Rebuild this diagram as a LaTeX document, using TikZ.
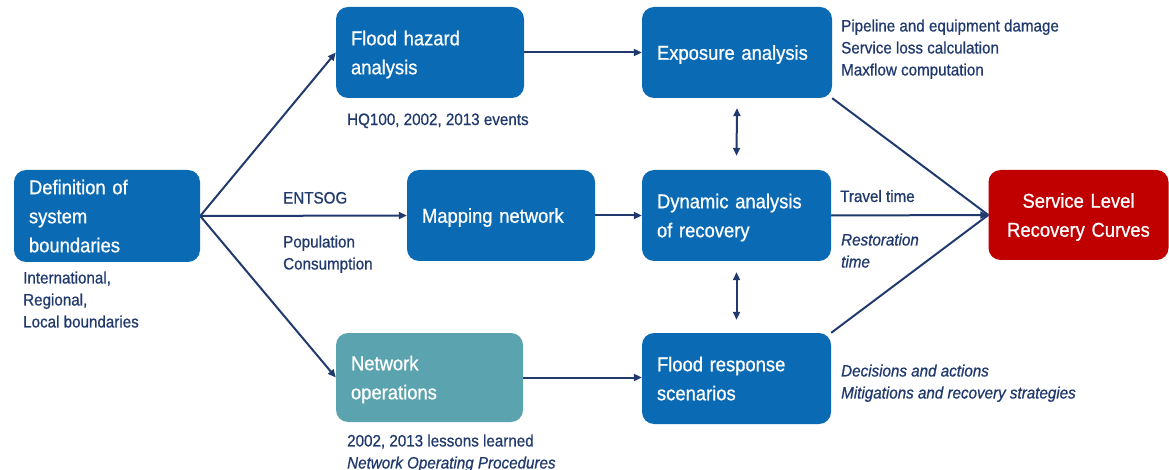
\documentclass[tikz,border=0pt]{standalone}
\usepackage{fontspec}
\setmainfont[FakeStretch=0.92,FakeBold=0.8]{Liberation Sans}
\usetikzlibrary{arrows.meta}
\definecolor{boxblue}{HTML}{0A6AB4}
\definecolor{boxteal}{HTML}{5BA3AE}
\definecolor{boxred}{HTML}{C00000}
\definecolor{ink}{HTML}{213A6E}
\pgfdeclarelayer{bg}
\pgfsetlayers{bg,main}
% struts that give every box text the same top and bottom extent
\newcommand{\headstrut}{\rule{0pt}{19.5pt}}
\newcommand{\footstrut}{\rule[-5pt]{0pt}{5pt}}

\begin{document}
\begin{tikzpicture}[x=1pt,y=-1pt,
  stagebox/.style={rounded corners=12pt, fill=boxblue, text=white,
    font=\fontsize{20}{29}\selectfont, align=left,
    inner xsep=15pt, inner ysep=0pt},
  note/.style={text=ink, font=\fontsize{16.5}{22}\selectfont, align=left,
    inner sep=0pt, anchor=north west},
  flow/.style={draw=ink, line width=2pt, -{Triangle[length=8pt,width=7pt]}},
  link/.style={draw=ink, line width=2pt},
  twoway/.style={draw=ink, line width=2pt,
    {Triangle[length=8pt,width=7pt]}-{Triangle[length=8pt,width=7pt]}}]
\useasboundingbox (0,0) rectangle (1169,470);

% process boxes
\node[stagebox, text width=156pt, minimum height=92pt] (def) at (107,216)
  {\headstrut Definition of\\system\\boundaries\footstrut};
\node[stagebox, text width=158pt, minimum height=91pt] (haz) at (430,52.5)
  {\headstrut Flood hazard\\analysis\footstrut};
\node[stagebox, text width=160pt, minimum height=91pt] (exp) at (737,52.5)
  {\headstrut Exposure analysis\footstrut};
\node[stagebox, text width=158pt, minimum height=91pt] (map) at (501,215.5)
  {\headstrut Mapping network\footstrut};
\node[stagebox, text width=159pt, minimum height=91pt] (dyn) at (736.5,215.5)
  {\headstrut Dynamic analysis\\of recovery\footstrut};
\node[stagebox, fill=boxteal, text width=157pt, minimum height=89pt] (ops) at (429.5,377.5)
  {\headstrut Network\\operations\footstrut};
\node[stagebox, text width=159pt, minimum height=91pt] (resp) at (736.5,378.5)
  {\headstrut Flood response\\scenarios\footstrut};
\node[stagebox, fill=boxred, align=center, text width=150pt, minimum height=90pt] (out) at (1078.5,215)
  {\headstrut Service Level\\Recovery Curves\footstrut};

% annotations
\node[note] (nDef) at (23,271.3) {International,\\Regional,\\Local boundaries};
\node[note] (nHaz) at (347,113.3) {HQ100, 2002, 2013 events};
\node[note] (nExp) at (841,19.3) {Pipeline and equipment damage\\Service loss calculation\\Maxflow computation};
\node[note] (nEnt) at (283,191.8) {ENTSOG};
\node[note] (nPop) at (283,235.3) {Population\\Consumption};
\node[note] (nTrv) at (840,189.8) {Travel time};
\node[note, font=\fontsize{16.5}{22}\selectfont\itshape] (nRes) at (841,233.3) {Restoration\\time};
\node[note] (nOps) at (347,434.3) {2002, 2013 lessons learned\\\itshape Network Operating Procedures};
\node[note, font=\fontsize{16.5}{22}\selectfont\itshape] (nResp) at (841,364.3) {Decisions and actions\\Mitigations and recovery strategies};

% connectors
\begin{pgfonlayer}{bg}
\draw[flow] (def.east) -- (haz.west);
\draw[flow] (def.east) -- (map.west);
\draw[flow] (def.east) -- (ops.west);
\draw[flow] (haz.east) -- (exp.west);
\draw[flow] (map.east) -- (dyn.west);
\draw[flow] (ops.east) -- (ops.east -| resp.west);
\draw[twoway] ([yshift=-10pt]exp.south) -- ([yshift=14pt]dyn.north);
\draw[twoway] ([yshift=-11pt]dyn.south) -- ([yshift=13pt]resp.north);
\draw[link] (exp.south east) -- (out.west);
\draw[link] (resp.north east) -- (out.west);
\draw[flow] (dyn.east) -- (out.west);
\end{pgfonlayer}
\end{tikzpicture}
\end{document}
